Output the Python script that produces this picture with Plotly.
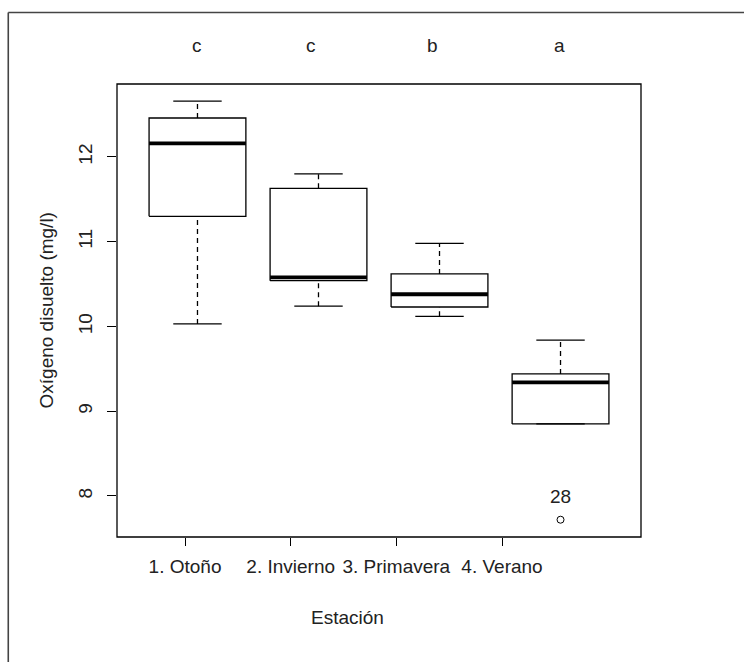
import plotly.graph_objects as go

# Dissolved oxygen by season: five-number summaries
seasons = ["1. Otoño", "2. Invierno", "3. Primavera", "4. Verano"]
upper_whisker = [12.66, 11.80, 10.98, 9.84]
q3 = [12.46, 11.63, 10.62, 9.44]
median = [12.16, 10.58, 10.38, 9.34]
q1 = [11.30, 10.54, 10.23, 8.85]
lower_whisker = [10.03, 10.24, 10.12, 8.85]
group_letters = ["c", "c", "b", "a"]
letter_xshift = [0, -7, -7, -1]
outlier_season = 4
outlier_value = 7.72
outlier_label = "28"
y_ticks = [8, 9, 10, 11, 12]

FONT = "Liberation Sans, Arial, Helvetica, sans-serif"
TXT = "#222222"
FS = 19
BOX_HALF = 0.4
CAP_HALF = 0.2

fig = go.Figure()

line_style = dict(color="black", width=1.3)
for i in range(len(seasons)):
    p = i + 1
    # box outline
    fig.add_trace(go.Scatter(
        x=[p - BOX_HALF, p + BOX_HALF, p + BOX_HALF, p - BOX_HALF, p - BOX_HALF],
        y=[q1[i], q1[i], q3[i], q3[i], q1[i]],
        mode="lines", line=line_style, hoverinfo="skip", showlegend=False))
    # dashed whiskers
    fig.add_trace(go.Scatter(
        x=[p, p, None, p, p],
        y=[q3[i], upper_whisker[i], None, lower_whisker[i], q1[i]],
        mode="lines", line=dict(color="black", width=1.3, dash="5px,4px"),
        hoverinfo="skip", showlegend=False))
    # whisker caps
    fig.add_trace(go.Scatter(
        x=[p - CAP_HALF, p + CAP_HALF, None, p - CAP_HALF, p + CAP_HALF],
        y=[upper_whisker[i], upper_whisker[i], None, lower_whisker[i], lower_whisker[i]],
        mode="lines", line=line_style, hoverinfo="skip", showlegend=False))
    # median
    fig.add_trace(go.Scatter(
        x=[p - BOX_HALF, p + BOX_HALF], y=[median[i], median[i]],
        mode="lines", line=dict(color="black", width=3.8),
        hoverinfo="skip", showlegend=False))

# outlier
fig.add_trace(go.Scatter(
    x=[outlier_season], y=[outlier_value], mode="markers",
    marker=dict(symbol="circle-open", size=7, color="black", line=dict(width=1)),
    hoverinfo="skip", showlegend=False))

# category axis carrying the season labels
fig.add_trace(go.Scatter(
    x=[1, 2, 3, 4], y=median, xaxis="x2", mode="markers",
    marker=dict(opacity=0), hoverinfo="skip", showlegend=False))

annotations = []
for i, letter in enumerate(group_letters):
    annotations.append(dict(
        x=i + 1, y=1.086, xref="x", yref="paper", text=letter,
        showarrow=False, xshift=letter_xshift[i], yanchor="middle",
        font=dict(family=FONT, size=FS, color=TXT)))
annotations.append(dict(
    x=outlier_season, y=outlier_value, xref="x", yref="y", text=outlier_label,
    showarrow=False, yshift=23, font=dict(family=FONT, size=FS, color=TXT)))
annotations.append(dict(
    x=0.439, y=-0.177, xref="paper", yref="paper", text="Estación",
    showarrow=False, yanchor="middle", font=dict(family=FONT, size=FS, color=TXT)))
annotations.append(dict(
    x=-0.1336, y=0.5, xref="paper", yref="paper", text="Oxígeno disuelto (mg/l)",
    textangle=-90, showarrow=False, xanchor="center", yanchor="middle",
    font=dict(family=FONT, size=FS, color=TXT)))

shapes = [
    # plot frame
    dict(type="rect", xref="paper", yref="paper", x0=0, x1=1, y0=0, y1=1,
         line=dict(color="black", width=1.3)),
    # outer figure border
    dict(type="line", xref="paper", yref="paper", x0=-0.2075, x1=-0.2075,
         y0=-0.3, y1=1.158, line=dict(color="#444444", width=1.6)),
    dict(type="line", xref="paper", yref="paper", x0=-0.2075, x1=1.25,
         y0=1.158, y1=1.158, line=dict(color="#444444", width=1.6)),
]

fig.update_layout(
    width=744, height=662,
    margin=dict(l=117, r=103, t=84, b=125),
    paper_bgcolor="white", plot_bgcolor="white",
    font=dict(family=FONT, size=FS, color=TXT),
    xaxis=dict(range=[0.335, 4.665], showticklabels=False, ticks="",
               showgrid=False, zeroline=False, showline=False),
    xaxis2=dict(range=[0.3565, 5.3154], overlaying="x", anchor="y", side="bottom",
                tickvals=[1, 2, 3, 4], ticktext=seasons, ticks="outside",
                ticklen=8, tickwidth=1.2, tickcolor="black", showgrid=False,
                zeroline=False, showline=False, ticklabelstandoff=4,
                tickfont=dict(family=FONT, size=FS, color=TXT)),
    yaxis=dict(range=[7.516, 12.861], tickvals=y_ticks, ticks="outside",
               ticklen=9, tickwidth=1.2, tickcolor="black", tickangle=-90,
               showgrid=False, zeroline=False, showline=False,
               ticklabelstandoff=7,
               tickfont=dict(family=FONT, size=FS, color=TXT)),
    annotations=annotations,
    shapes=shapes,
)

fig.write_html("out.html")
